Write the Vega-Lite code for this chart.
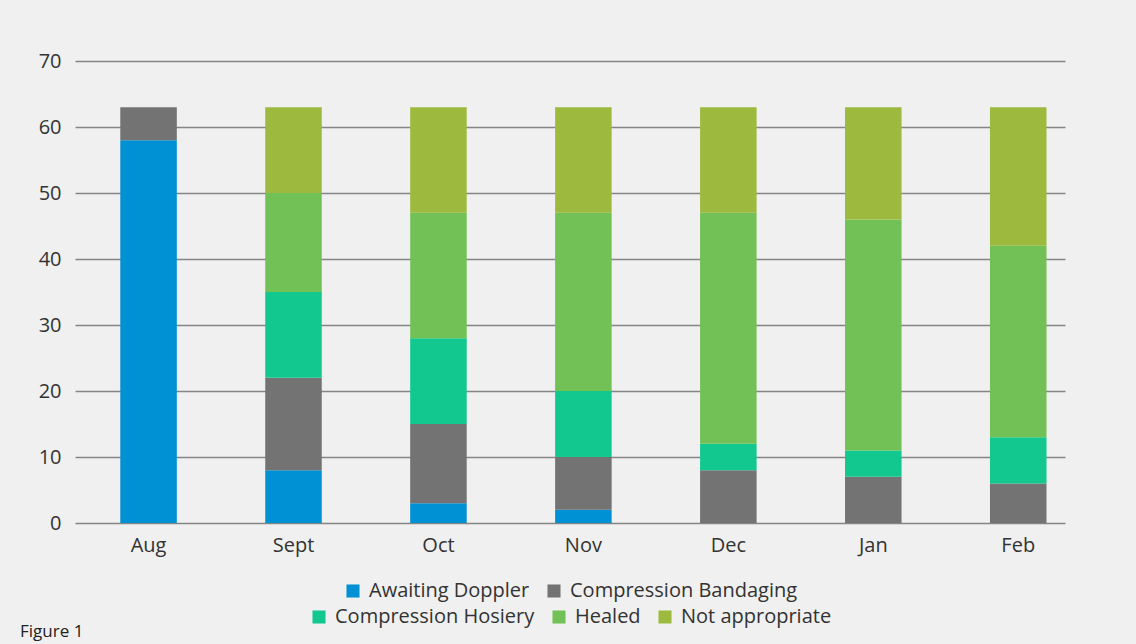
{
  "$schema": "https://vega.github.io/schema/vega-lite/v6.json",
  "width": 990,
  "height": 462,
  "autosize": {"type": "none"},
  "padding": {"left": 75, "top": 61, "right": 71, "bottom": 121},
  "background": "#eff0ef",
  "title": {
    "text": "Figure 1",
    "orient": "bottom",
    "anchor": "start",
    "frame": "group",
    "dx": -55,
    "offset": -3,
    "fontSize": 17,
    "fontWeight": "normal",
    "font": "Open Sans",
    "color": "#222222"
  },
  "data": {
    "values": [
      {"month": "Aug", "status": "Awaiting Doppler", "count": 58},
      {"month": "Aug", "status": "Compression Bandaging", "count": 5},
      {"month": "Sept", "status": "Awaiting Doppler", "count": 8},
      {"month": "Sept", "status": "Compression Bandaging", "count": 14},
      {"month": "Sept", "status": "Compression Hosiery", "count": 13},
      {"month": "Sept", "status": "Healed", "count": 15},
      {"month": "Sept", "status": "Not appropriate", "count": 13},
      {"month": "Oct", "status": "Awaiting Doppler", "count": 3},
      {"month": "Oct", "status": "Compression Bandaging", "count": 12},
      {"month": "Oct", "status": "Compression Hosiery", "count": 13},
      {"month": "Oct", "status": "Healed", "count": 19},
      {"month": "Oct", "status": "Not appropriate", "count": 16},
      {"month": "Nov", "status": "Awaiting Doppler", "count": 2},
      {"month": "Nov", "status": "Compression Bandaging", "count": 8},
      {"month": "Nov", "status": "Compression Hosiery", "count": 10},
      {"month": "Nov", "status": "Healed", "count": 27},
      {"month": "Nov", "status": "Not appropriate", "count": 16},
      {"month": "Dec", "status": "Compression Bandaging", "count": 8},
      {"month": "Dec", "status": "Compression Hosiery", "count": 4},
      {"month": "Dec", "status": "Healed", "count": 35},
      {"month": "Dec", "status": "Not appropriate", "count": 16},
      {"month": "Jan", "status": "Compression Bandaging", "count": 7},
      {"month": "Jan", "status": "Compression Hosiery", "count": 4},
      {"month": "Jan", "status": "Healed", "count": 35},
      {"month": "Jan", "status": "Not appropriate", "count": 17},
      {"month": "Feb", "status": "Compression Bandaging", "count": 6},
      {"month": "Feb", "status": "Compression Hosiery", "count": 7},
      {"month": "Feb", "status": "Healed", "count": 29},
      {"month": "Feb", "status": "Not appropriate", "count": 21}
    ]
  },
  "transform": [
    {"stack": "count", "groupby": ["month"], "sort": [{"field": "status", "order": "ascending"}], "as": ["y0", "y1"]}
  ],
  "encoding": {
    "x": {
      "field": "month",
      "type": "nominal",
      "sort": ["Aug", "Sept", "Oct", "Nov", "Dec", "Jan", "Feb"],
      "scale": {"paddingInner": 0.61, "paddingOuter": 0.22, "align": 0.71},
      "axis": {"title": null, "labelAngle": 0, "ticks": false, "domain": false, "labelPadding": 12, "labelFontSize": 20, "labelColor": "#333333", "labelFont": "Open Sans"}
    },
    "y": {
      "field": "y0",
      "type": "quantitative",
      "scale": {"domain": [0, 70], "nice": false},
      "axis": {"title": null, "values": [0, 10, 20, 30, 40, 50, 60, 70], "labelOverlap": false, "ticks": false, "domain": false, "labelPadding": 14, "labelFontSize": 20, "labelColor": "#333333", "labelFont": "Open Sans", "gridColor": "#858585", "gridWidth": 1.3, "gridOpacity": 1}
    },
    "y2": {"field": "y1"}
  },
  "layer": [
    {
      "transform": [{"filter": {"field": "status", "oneOf": ["Awaiting Doppler", "Compression Bandaging"]}}],
      "mark": {"type": "bar"},
      "encoding": {
        "color": {
          "field": "status",
          "type": "nominal",
          "scale": {"domain": ["Awaiting Doppler", "Compression Bandaging"], "range": ["#0091d5", "#737373"]},
          "legend": {"title": null, "orient": "bottom", "direction": "horizontal", "symbolType": "square", "symbolSize": 170, "symbolStrokeWidth": 0, "labelFontSize": 20, "labelFont": "Open Sans", "labelColor": "#333333", "labelLimit": 0, "columnPadding": 14, "labelOffset": 6}
        }
      }
    },
    {
      "transform": [{"filter": {"field": "status", "oneOf": ["Compression Hosiery", "Healed", "Not appropriate"]}}],
      "mark": {"type": "bar"},
      "encoding": {
        "color": {
          "field": "status",
          "type": "nominal",
          "scale": {"domain": ["Compression Hosiery", "Healed", "Not appropriate"], "range": ["#12c88e", "#72c157", "#9dba3f"]},
          "legend": {"title": null, "orient": "bottom", "direction": "horizontal", "symbolType": "square", "symbolSize": 170, "symbolStrokeWidth": 0, "labelFontSize": 20, "labelFont": "Open Sans", "labelColor": "#333333", "labelLimit": 0, "columnPadding": 14, "labelOffset": 6}
        }
      }
    }
  ],
  "resolve": {"scale": {"color": "independent"}, "legend": {"color": "independent"}},
  "config": {
    "view": {"stroke": null},
    "legend": {"layout": {"bottom": {"anchor": "middle", "direction": "vertical", "center": true, "margin": 6}}, "offset": 26}
  }
}
